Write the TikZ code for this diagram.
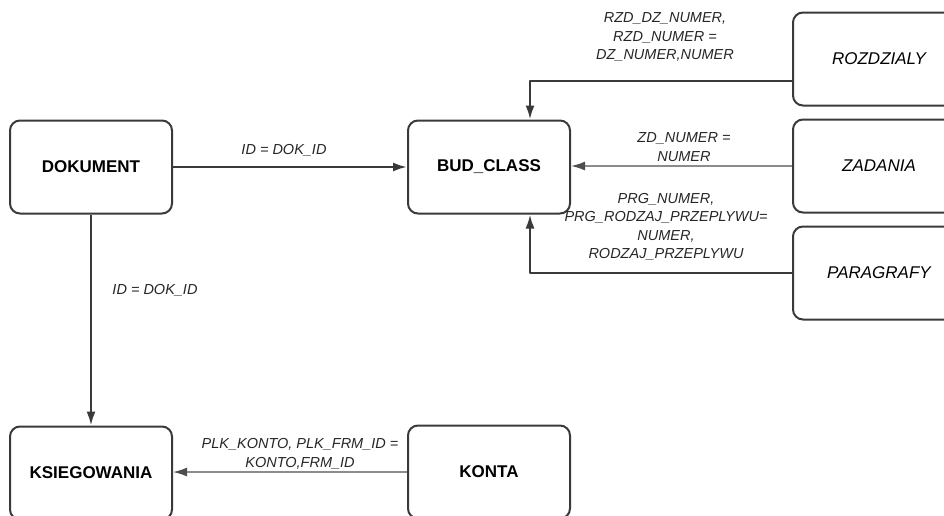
\documentclass[tikz,border=0pt]{standalone}
\usepackage{fontspec}
\setmainfont{Liberation Sans}
\usetikzlibrary{arrows.meta,calc}
\definecolor{boxline}{HTML}{3A3A3A}
\definecolor{thinline}{HTML}{8C8C8C}
\tikzset{
	entity/.style={draw=boxline, line width=2pt, rounded corners=10pt, fill=white,
		minimum width=162pt, minimum height=93pt, inner sep=0pt},
	entitybf/.style={entity, font=\fontsize{17}{20}\selectfont\bfseries},
	entityit/.style={entity, minimum width=172pt, font=\fontsize{17}{20}\selectfont\itshape},
	conn/.style={draw=boxline, line width=2.2pt, -{Latex[length=14pt,width=9pt]}},
	thinconn/.style={draw=thinline, line width=1.5pt, -{Latex[length=14pt,width=9pt,color=boxline!90]}},
	lbl/.style={font=\fontsize{14.5}{18.5}\selectfont\itshape, text=black!85, align=center, inner sep=0pt}
}
\begin{document}
\begin{tikzpicture}[x=1pt, y=-1pt, line join=round]
	\useasboundingbox (0,0) rectangle (944,515);
	\clip (0,0) rectangle (944,515);
	% entities
	\node[entitybf] (dokument) at (91,167) {DOKUMENT};
	\node[entitybf] (budclass) at (489,167) {BUD\_CLASS};
	\node[entitybf] (ksiegowania) at (91,473) {KSIEGOWANIA};
	\node[entitybf] (konta) at (489,472) {KONTA};
	\node[entityit] (rozdzialy) at (879,59) {ROZDZIALY};
	\node[entityit] (zadania) at (879,166) {ZADANIA};
	\node[entityit] (paragrafy) at (879,273) {PARAGRAFY};

	% relations
	\draw[conn] (dokument) -- (budclass);
	\draw[conn] (dokument) -- (ksiegowania);
	\draw[conn] ([yshift=-22pt]rozdzialy.west) -| ([xshift=41pt]budclass.north);
	\draw[thinconn] (zadania.west) -- (zadania.west -| budclass.east);
	\draw[conn] (paragrafy.west) -| ([xshift=41pt]budclass.south);
	\draw[thinconn] (konta.west) -- (konta.west -| ksiegowania.east);

	% join conditions
	\node[lbl] (lbldokbud) at (284,150) {ID = DOK\_ID};
	\node[lbl] (lbldokksi) at (155,290) {ID = DOK\_ID};
	\node[lbl] (lblroz) at (665,37) {RZD\_DZ\_NUMER,\\RZD\_NUMER =\\DZ\_NUMER,NUMER};
	\node[lbl] (lblzad) at (684,147) {ZD\_NUMER =\\NUMER};
	\node[lbl] (lblpar) at (666,227) {PRG\_NUMER,\\PRG\_RODZAJ\_PRZEPLYWU=\\NUMER,\\RODZAJ\_PRZEPLYWU};
	\node[lbl] (lblkon) at (300,454) {PLK\_KONTO, PLK\_FRM\_ID =\\KONTO,FRM\_ID};
\end{tikzpicture}
\end{document}
